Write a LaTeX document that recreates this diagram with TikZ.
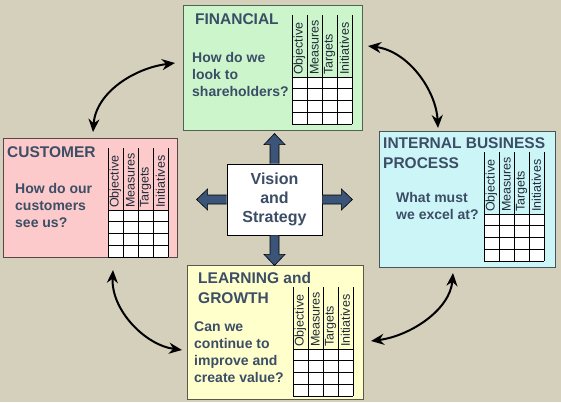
\documentclass[tikz,border=0pt]{standalone}
\usepackage{fontspec}
\setmainfont{Liberation Sans}
\usetikzlibrary{arrows.meta}
\definecolor{bgtan}{HTML}{D4D0BC}
\definecolor{inkblue}{HTML}{3C4D66}
\definecolor{finfill}{HTML}{CCF5CC}
\definecolor{cusfill}{HTML}{FCCACA}
\definecolor{intfill}{HTML}{CCF5F8}
\definecolor{lrnfill}{HTML}{FFFFCC}
\definecolor{vsblue}{HTML}{3B5578}
\tikzset{
  card/.style={draw, line width=0.9pt, inner sep=0pt},
  title/.style={anchor=north west, inner sep=0pt, align=left, text=inkblue, font=\fontsize{15.5}{20}\selectfont\bfseries},
  quest/.style={anchor=north west, inner sep=0pt, align=left, text=inkblue, font=\fontsize{14}{17}\selectfont\bfseries},
  hdr/.style={rotate=90, anchor=west, inner sep=1pt, text=inkblue!55!black, font=\fontsize{12.5}{14}\selectfont},
  gridline/.style={line width=0.8pt},
  cyc/.style={line width=2pt, {Stealth[length=13pt,width=11pt]}-{Stealth[length=13pt,width=11pt]}},
  bigarrow/.style={fill=vsblue, draw=black, line width=0.6pt}
}
\newcommand{\scgrid}[3]{
  \fill[white] (#2,#3) rectangle ++(60,47);
  \foreach \i in {0,...,4} \draw[gridline] ({#2+15*\i},{#3-62}) -- ({#2+15*\i},{#3+47});
  \foreach \j in {0,...,4} \draw[gridline] (#2,{#3+11.75*\j}) -- ({#2+60},{#3+11.75*\j});
  \foreach \t [count=\i] in {Objective,Measures,Targets,Initiatives}
    \node[hdr] (#1-\i) at ({#2+15*\i-7.5},{#3-1}) {\t};
}
\begin{document}
\begin{tikzpicture}[x=1pt, y=-1pt]
  \useasboundingbox (0,0) rectangle (561,402);
  \fill[bgtan] (0,0) rectangle (561,402);
  \node[card, fill=finfill, draw=finfill!40!black, minimum width=179pt, minimum height=125pt] (fin) at (272.5,67.5) {};
  \node[card, fill=cusfill, draw=cusfill!35!black, minimum width=174pt, minimum height=119pt] (cus) at (90,197.5) {};
  \node[card, fill=intfill, draw=intfill!35!black, minimum width=176pt, minimum height=136pt] (int) at (467,199) {};
  \node[card, fill=lrnfill, draw=lrnfill!35!black, minimum width=176pt, minimum height=134pt] (lrn) at (275,332) {};
  \scgrid{fing}{292}{77}
  \scgrid{cusg}{108}{210}
  \scgrid{intg}{484}{214}
  \scgrid{lrng}{293}{349}
  \node[title] (fint) at (195,13) {FINANCIAL};
  \node[quest] (finq) at (192,52) {How do we\\look to\\shareholders?};
  \node[title] (cust) at (7,146) {CUSTOMER};
  \node[quest] (cusq) at (15,183) {How do our\\customers\\see us?};
  \node[title] (intt) at (383,137.5) {INTERNAL BUSINESS\\PROCESS};
  \node[quest] (intq) at (396,192) {What must\\we excel at?};
  \node[title] (lrnt) at (198,272) {LEARNING and\\GROWTH};
  \node[quest] (lrnq) at (194,322) {Can we\\continue to\\improve and\\create value?};
  \node[draw=black, fill=white, line width=0.8pt, minimum width=95pt, minimum height=71pt, align=center, text=inkblue, font=\fontsize{16}{19}\selectfont\bfseries] (vis) at (274.5,199.5) {Vision\\and\\Strategy};
  \foreach \ang/\anc in {90/north,0/east,270/south,180/west}
    \filldraw[bigarrow, shift={(vis.\anc)}, rotate=\ang] (0,-4.5) -- (19,-4.5) -- (19,-10.5) -- (30,0) -- (19,10.5) -- (19,4.5) -- (0,4.5);
  \coordinate (fc1) at (175,63);
  \coordinate (fc2) at (93,132);
  \coordinate (fi1) at (368,46);
  \coordinate (fi2) at (438,128);
  \coordinate (cl1) at (113,270);
  \coordinate (cl2) at (182,350);
  \coordinate (il1) at (453,273);
  \coordinate (il2) at (371,341);
  \draw[cyc] (fc1) .. controls +(-40,5) and +(3,-40) .. (fc2);
  \draw[cyc] (fi1) .. controls +(40,5) and +(-2,-38) .. (fi2);
  \draw[cyc] (cl1) .. controls +(-2,40) and +(-37,-5) .. (cl2);
  \draw[cyc] (il1) .. controls +(-3,37) and +(39,-5) .. (il2);
\end{tikzpicture}
\end{document}
